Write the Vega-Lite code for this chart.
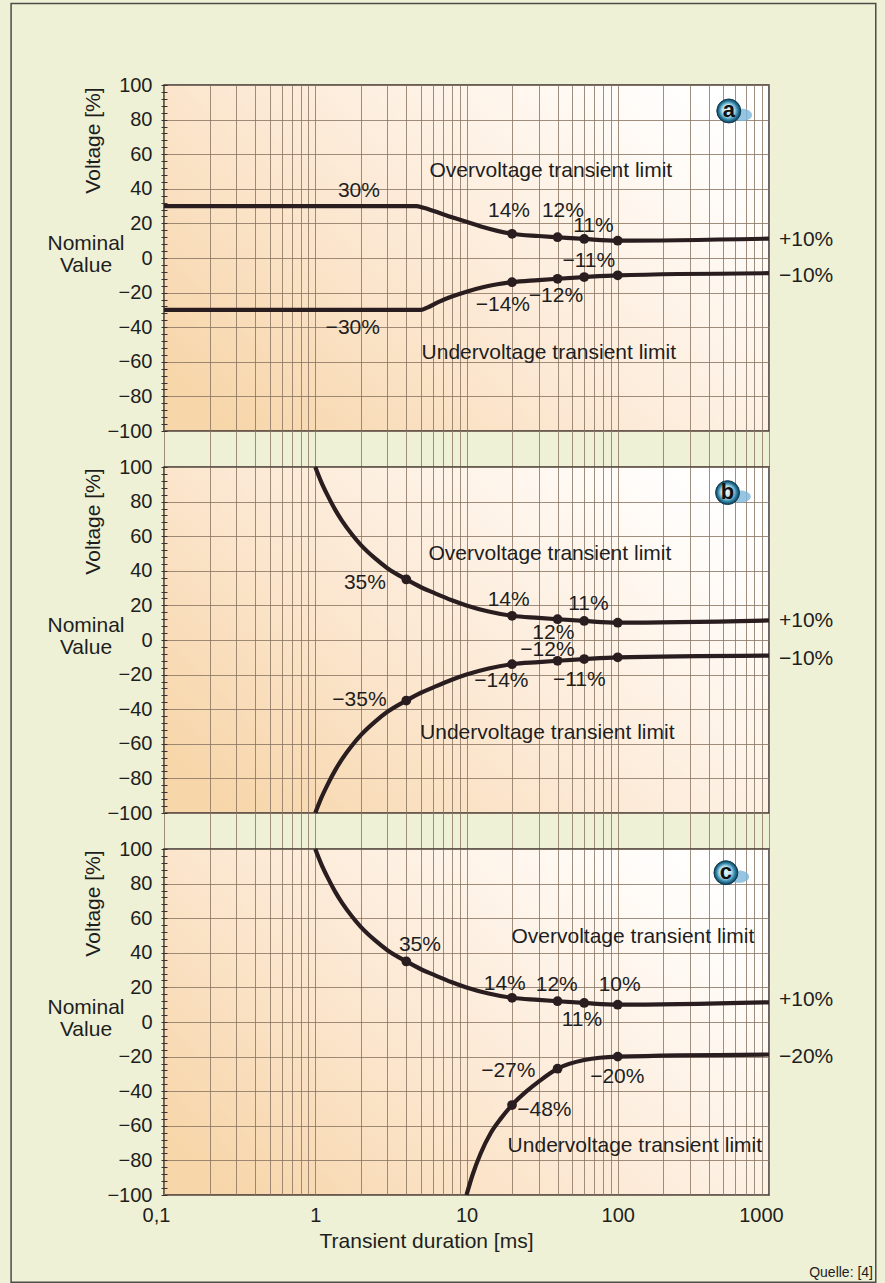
{
  "$schema": "https://vega.github.io/schema/vega-lite/v6.json",
  "background": "#eef1d5",
  "padding": {"left": 9, "top": 2, "right": 9, "bottom": 1},
  "spacing": 36,
  "bounds": "flush",
  "config": {
    "font": "Liberation Sans",
    "view": {
      "stroke": "#3a3030",
      "strokeWidth": 1.5,
      "fill": {"gradient": "linear", "x1": 0, "y1": 0.8, "x2": 1, "y2": 0.2,
        "stops": [{"offset": 0, "color": "#f7d6aa"}, {"offset": 0.45, "color": "#fce9d5"}, {"offset": 0.85, "color": "#fffaf5"}, {"offset": 1, "color": "#ffffff"}]}
    },
    "axis": {"labelFont": "Liberation Sans", "titleFont": "Liberation Sans", "labelColor": "#1e1e1e", "titleColor": "#1e1e1e", "labelOverlap": false, "labelFlush": false},
    "text": {"font": "Liberation Sans", "fontSize": 21, "color": "#1e1e1e"}
  },
  "datasets": {
    "curves": [
      {"panel":"a","series":"up","t":0.1,"v":30},{"panel":"a","series":"up","t":4.65,"v":30},{"panel":"a","series":"up","t":5.2,"v":29},{"panel":"a","series":"up","t":6,"v":27.3},{"panel":"a","series":"up","t":8,"v":23.6},{"panel":"a","series":"up","t":10,"v":21},{"panel":"a","series":"up","t":13,"v":17.8},{"panel":"a","series":"up","t":16,"v":15.7},{"panel":"a","series":"up","t":20,"v":14},{"panel":"a","series":"up","t":30,"v":12.7},{"panel":"a","series":"up","t":40,"v":12},{"panel":"a","series":"up","t":60,"v":11},{"panel":"a","series":"up","t":100,"v":10},{"panel":"a","series":"up","t":1000,"v":11.2},
      {"panel":"a","series":"lo","t":0.1,"v":-30},{"panel":"a","series":"lo","t":5,"v":-30},{"panel":"a","series":"lo","t":5.5,"v":-28.7},{"panel":"a","series":"lo","t":6.5,"v":-25.5},{"panel":"a","series":"lo","t":8,"v":-22.3},{"panel":"a","series":"lo","t":10,"v":-19.5},{"panel":"a","series":"lo","t":13,"v":-16.8},{"panel":"a","series":"lo","t":16,"v":-15.2},{"panel":"a","series":"lo","t":20,"v":-14},{"panel":"a","series":"lo","t":30,"v":-12.8},{"panel":"a","series":"lo","t":40,"v":-12},{"panel":"a","series":"lo","t":60,"v":-11},{"panel":"a","series":"lo","t":100,"v":-10},{"panel":"a","series":"lo","t":1000,"v":-8.8},
      {"panel":"b","series":"up","t":1,"v":100},{"panel":"b","series":"up","t":1.1,"v":91},{"panel":"b","series":"up","t":1.2,"v":84},{"panel":"b","series":"up","t":1.35,"v":75.5},{"panel":"b","series":"up","t":1.5,"v":69},{"panel":"b","series":"up","t":1.75,"v":61},{"panel":"b","series":"up","t":2,"v":55},{"panel":"b","series":"up","t":2.5,"v":47},{"panel":"b","series":"up","t":3,"v":41.5},{"panel":"b","series":"up","t":4,"v":35},{"panel":"b","series":"up","t":5,"v":30.5},{"panel":"b","series":"up","t":6,"v":27.5},{"panel":"b","series":"up","t":8,"v":23},{"panel":"b","series":"up","t":10,"v":20},{"panel":"b","series":"up","t":14,"v":16.5},{"panel":"b","series":"up","t":20,"v":14},{"panel":"b","series":"up","t":30,"v":12.8},{"panel":"b","series":"up","t":40,"v":12},{"panel":"b","series":"up","t":60,"v":11},{"panel":"b","series":"up","t":100,"v":10},{"panel":"b","series":"up","t":1000,"v":11.3},
      {"panel":"b","series":"lo","t":1,"v":-100},{"panel":"b","series":"lo","t":1.1,"v":-91},{"panel":"b","series":"lo","t":1.2,"v":-84},{"panel":"b","series":"lo","t":1.35,"v":-75.5},{"panel":"b","series":"lo","t":1.5,"v":-69},{"panel":"b","series":"lo","t":1.75,"v":-61},{"panel":"b","series":"lo","t":2,"v":-55},{"panel":"b","series":"lo","t":2.5,"v":-47},{"panel":"b","series":"lo","t":3,"v":-41.5},{"panel":"b","series":"lo","t":4,"v":-35},{"panel":"b","series":"lo","t":5,"v":-30.5},{"panel":"b","series":"lo","t":6,"v":-27.5},{"panel":"b","series":"lo","t":8,"v":-23},{"panel":"b","series":"lo","t":10,"v":-20},{"panel":"b","series":"lo","t":14,"v":-16.5},{"panel":"b","series":"lo","t":20,"v":-14},{"panel":"b","series":"lo","t":30,"v":-12.8},{"panel":"b","series":"lo","t":40,"v":-12},{"panel":"b","series":"lo","t":60,"v":-11},{"panel":"b","series":"lo","t":100,"v":-10},{"panel":"b","series":"lo","t":1000,"v":-9},
      {"panel":"c","series":"up","t":1,"v":100},{"panel":"c","series":"up","t":1.1,"v":91},{"panel":"c","series":"up","t":1.2,"v":84},{"panel":"c","series":"up","t":1.35,"v":75.5},{"panel":"c","series":"up","t":1.5,"v":69},{"panel":"c","series":"up","t":1.75,"v":61},{"panel":"c","series":"up","t":2,"v":55},{"panel":"c","series":"up","t":2.5,"v":47},{"panel":"c","series":"up","t":3,"v":41.5},{"panel":"c","series":"up","t":4,"v":35},{"panel":"c","series":"up","t":5,"v":30.5},{"panel":"c","series":"up","t":6,"v":27.5},{"panel":"c","series":"up","t":8,"v":23},{"panel":"c","series":"up","t":10,"v":20},{"panel":"c","series":"up","t":14,"v":16.5},{"panel":"c","series":"up","t":20,"v":14},{"panel":"c","series":"up","t":30,"v":12.8},{"panel":"c","series":"up","t":40,"v":12},{"panel":"c","series":"up","t":60,"v":11},{"panel":"c","series":"up","t":100,"v":10},{"panel":"c","series":"up","t":1000,"v":11.4},
      {"panel":"c","series":"lo","t":10,"v":-100},{"panel":"c","series":"lo","t":11,"v":-88},{"panel":"c","series":"lo","t":12.4,"v":-76},{"panel":"c","series":"lo","t":14.5,"v":-64},{"panel":"c","series":"lo","t":16.8,"v":-56},{"panel":"c","series":"lo","t":20,"v":-48},{"panel":"c","series":"lo","t":25,"v":-40},{"panel":"c","series":"lo","t":30,"v":-34.5},{"panel":"c","series":"lo","t":40,"v":-27},{"panel":"c","series":"lo","t":60,"v":-22},{"panel":"c","series":"lo","t":100,"v":-20},{"panel":"c","series":"lo","t":1000,"v":-18.8}
    ],
    "dots": [
      {"panel":"a","t":20,"v":14},{"panel":"a","t":40,"v":12},{"panel":"a","t":60,"v":11},{"panel":"a","t":100,"v":10},
      {"panel":"a","t":20,"v":-14},{"panel":"a","t":40,"v":-12},{"panel":"a","t":60,"v":-11},{"panel":"a","t":100,"v":-10},
      {"panel":"b","t":4,"v":35},{"panel":"b","t":20,"v":14},{"panel":"b","t":40,"v":12},{"panel":"b","t":60,"v":11},{"panel":"b","t":100,"v":10},
      {"panel":"b","t":4,"v":-35},{"panel":"b","t":20,"v":-14},{"panel":"b","t":40,"v":-12},{"panel":"b","t":60,"v":-11},{"panel":"b","t":100,"v":-10},
      {"panel":"c","t":4,"v":35},{"panel":"c","t":20,"v":14},{"panel":"c","t":40,"v":12},{"panel":"c","t":60,"v":11},{"panel":"c","t":100,"v":10},
      {"panel":"c","t":20,"v":-48},{"panel":"c","t":40,"v":-27},{"panel":"c","t":100,"v":-20}
    ],
    "labels": [
      {"panel":"a","text":"30%","t":1.945,"v":38.7},{"panel":"a","text":"−30%","t":1.77,"v":-40.3},{"panel":"a","text":"14%","t":19.1,"v":27.2},{"panel":"a","text":"12%","t":43.4,"v":27.2},{"panel":"a","text":"11%","t":69,"v":18.5},{"panel":"a","text":"−11%","t":64.4,"v":-1.7},{"panel":"a","text":"−14%","t":17.4,"v":-26.9},{"panel":"a","text":"−12%","t":39,"v":-22},{"panel":"a","text":"Overvoltage transient limit","t":36.1,"v":50.3},{"panel":"a","text":"Undervoltage transient limit","t":35,"v":-54.9},
      {"panel":"b","text":"35%","t":2.13,"v":33.1},{"panel":"b","text":"−35%","t":1.96,"v":-34.9},{"panel":"b","text":"14%","t":19,"v":23.3},{"panel":"b","text":"12%","t":37.5,"v":3.8},{"panel":"b","text":"11%","t":64,"v":20.7},{"panel":"b","text":"−12%","t":34.3,"v":-5.6},{"panel":"b","text":"−14%","t":17,"v":-23.6},{"panel":"b","text":"−11%","t":55.7,"v":-23.3},{"panel":"b","text":"Overvoltage transient limit","t":35.6,"v":49.9},{"panel":"b","text":"Undervoltage transient limit","t":34.2,"v":-53.9},
      {"panel":"c","text":"35%","t":4.92,"v":44.3},{"panel":"c","text":"14%","t":17.9,"v":22},{"panel":"c","text":"12%","t":39.5,"v":21.2},{"panel":"c","text":"10%","t":103,"v":21.2},{"panel":"c","text":"11%","t":58,"v":0.9},{"panel":"c","text":"−27%","t":18.9,"v":-28.1},{"panel":"c","text":"−20%","t":99.3,"v":-31.9},{"panel":"c","text":"−48%","t":32.7,"v":-51},{"panel":"c","text":"Overvoltage transient limit","t":125.9,"v":49},{"panel":"c","text":"Undervoltage transient limit","t":129.7,"v":-71.6}
    ],
    "ends": [
      {"panel":"a","text":"+10%","v":10.4},{"panel":"a","text":"−10%","v":-10.4},
      {"panel":"b","text":"+10%","v":11.2},{"panel":"b","text":"−10%","v":-10.8},
      {"panel":"c","text":"+10%","v":12.5},{"panel":"c","text":"−20%","v":-20}
    ],
    "badges": [
      {"panel":"a","letter":"a","t":542,"v":85},
      {"panel":"b","letter":"b","t":532,"v":85.2},
      {"panel":"c","letter":"c","t":519,"v":86.3}
    ]
  },
  "vconcat": [
    {
      "width": 605, "height": 346,
      "layer": [
        {"data": {"name": "curves"}, "transform": [{"filter": "datum.panel == 'a'"}],
         "mark": {"type": "line", "interpolate": "monotone", "strokeWidth": 4.2, "color": "#2a1d1f"},
         "encoding": {
           "x": {"field": "t", "type": "quantitative", "scale": {"type": "log", "domain": [0.1, 1000], "nice": false},
                 "axis": {"values": [0.1,0.2,0.3,0.4,0.5,0.6,0.7,0.8,0.9,1,2,3,4,5,6,7,8,9,10,20,30,40,50,60,70,80,90,100,200,300,400,500,600,700,800,900,1000],
                          "tickCount": 200, "labels": false, "ticks": true, "tickSize": 36, "tickColor": "#86725f", "tickWidth": 0.8, "domain": false, "labelOverlap": false,
                          "grid": true, "gridColor": "#86725f", "gridWidth": 0.8, "title": null}},
           "y": {"field": "v", "type": "quantitative", "scale": {"domain": [-100, 100], "nice": false},
                 "axis": {"values": [-100,-96,-92,-88,-84,-80,-76,-72,-68,-64,-60,-56,-52,-48,-44,-40,-36,-32,-28,-24,-20,-16,-12,-8,-4,0,4,8,12,16,20,24,28,32,36,40,44,48,52,56,60,64,68,72,76,80,84,88,92,96,100],
                          "tickCount": 200, "labelExpr": "datum.value % 20 === 0 ? datum.label : ''", "labelOverlap": false,
                          "grid": true, "gridColor": "#86725f", "gridWidth": 0.8,
                          "gridOpacity": {"condition": {"test": "datum.value % 20 === 0", "value": 1}, "value": 0},
                          "tickSize": 6, "offset": -3, "domain": false, "tickColor": "#3a3030", "tickWidth": 1,
                          "labelPadding": 9, "labelFontSize": 20,
                          "title": "Voltage [%]", "titleX": -73.5, "titleY": 55, "titleAlign": "center", "titleBaseline": "middle",
                          "titleAngle": -90, "titleFontSize": 21, "titleFontWeight": "normal"}},
           "detail": {"field": "series"}
         }},
        {"data": {"name": "dots"}, "transform": [{"filter": "datum.panel == 'a'"}],
         "mark": {"type": "point", "filled": true, "size": 95, "color": "#2a1d1f", "opacity": 1},
         "encoding": {"x": {"field": "t", "type": "quantitative"}, "y": {"field": "v", "type": "quantitative"}}},
        {"data": {"name": "labels"}, "transform": [{"filter": "datum.panel == 'a'"}],
         "mark": {"type": "text", "align": "center", "baseline": "middle"},
         "encoding": {"x": {"field": "t", "type": "quantitative"}, "y": {"field": "v", "type": "quantitative"}, "text": {"field": "text"}}},
        {"data": {"name": "ends"}, "transform": [{"filter": "datum.panel == 'a'"}],
         "mark": {"type": "text", "align": "left", "baseline": "middle", "dx": 10},
         "encoding": {"x": {"datum": 1000}, "y": {"field": "v", "type": "quantitative"}, "text": {"field": "text"}}},
        {"data": {"values": [{}]},
         "mark": {"type": "text", "text": "Nominal\nValue", "lineBreak": "\n", "lineHeight": 22, "align": "center", "baseline": "middle", "dx": -78, "dy": -11},
         "encoding": {"x": {"datum": 0.1}, "y": {"datum": 1.7}}},
        {"data": {"name": "badges"}, "transform": [{"filter": "datum.panel == 'a'"}],
         "mark": {"type": "point", "shape": "M -1 0 A 1 0.6 0 1 0 1 0 A 1 0.6 0 1 0 -1 0 Z", "filled": true, "size": 420, "color": "#7ab6dc", "opacity": 0.8, "xOffset": 13, "yOffset": 4},
         "encoding": {"x": {"field": "t", "type": "quantitative"}, "y": {"field": "v", "type": "quantitative"}}},
        {"data": {"name": "badges"}, "transform": [{"filter": "datum.panel == 'a'"}],
         "mark": {"type": "point", "shape": "circle", "filled": true, "size": 573, "opacity": 1, "stroke": "#0f3a50", "strokeWidth": 1,
                  "fill": {"gradient": "radial", "x1": 0.45, "y1": 0.45, "r1": 0, "x2": 0.5, "y2": 0.5, "r2": 0.5,
                           "stops": [{"offset": 0, "color": "#eef8fb"}, {"offset": 0.5, "color": "#b4e0ee"}, {"offset": 0.78, "color": "#2c82a6"}, {"offset": 1, "color": "#113c54"}]}},
         "encoding": {"x": {"field": "t", "type": "quantitative"}, "y": {"field": "v", "type": "quantitative"}}},
        {"data": {"name": "badges"}, "transform": [{"filter": "datum.panel == 'a'"}],
         "mark": {"type": "text", "fontSize": 22, "fontWeight": "bold", "align": "center", "baseline": "middle", "color": "#111111", "dy": -1},
         "encoding": {"x": {"field": "t", "type": "quantitative"}, "y": {"field": "v", "type": "quantitative"}, "text": {"field": "letter"}}}
      ]
    },
    {
      "width": 605, "height": 346,
      "layer": [
        {"data": {"name": "curves"}, "transform": [{"filter": "datum.panel == 'b'"}],
         "mark": {"type": "line", "interpolate": "monotone", "strokeWidth": 4.2, "color": "#2a1d1f"},
         "encoding": {
           "x": {"field": "t", "type": "quantitative", "scale": {"type": "log", "domain": [0.1, 1000], "nice": false},
                 "axis": {"values": [0.1,0.2,0.3,0.4,0.5,0.6,0.7,0.8,0.9,1,2,3,4,5,6,7,8,9,10,20,30,40,50,60,70,80,90,100,200,300,400,500,600,700,800,900,1000],
                          "tickCount": 200, "labels": false, "ticks": true, "tickSize": 36, "tickColor": "#86725f", "tickWidth": 0.8, "domain": false, "labelOverlap": false,
                          "grid": true, "gridColor": "#86725f", "gridWidth": 0.8, "title": null}},
           "y": {"field": "v", "type": "quantitative", "scale": {"domain": [-100, 100], "nice": false},
                 "axis": {"values": [-100,-96,-92,-88,-84,-80,-76,-72,-68,-64,-60,-56,-52,-48,-44,-40,-36,-32,-28,-24,-20,-16,-12,-8,-4,0,4,8,12,16,20,24,28,32,36,40,44,48,52,56,60,64,68,72,76,80,84,88,92,96,100],
                          "tickCount": 200, "labelExpr": "datum.value % 20 === 0 ? datum.label : ''", "labelOverlap": false,
                          "grid": true, "gridColor": "#86725f", "gridWidth": 0.8,
                          "gridOpacity": {"condition": {"test": "datum.value % 20 === 0", "value": 1}, "value": 0},
                          "tickSize": 6, "offset": -3, "domain": false, "tickColor": "#3a3030", "tickWidth": 1,
                          "labelPadding": 9, "labelFontSize": 20,
                          "title": "Voltage [%]", "titleX": -73.5, "titleY": 54, "titleAlign": "center", "titleBaseline": "middle",
                          "titleAngle": -90, "titleFontSize": 21, "titleFontWeight": "normal"}},
           "detail": {"field": "series"}
         }},
        {"data": {"name": "dots"}, "transform": [{"filter": "datum.panel == 'b'"}],
         "mark": {"type": "point", "filled": true, "size": 95, "color": "#2a1d1f", "opacity": 1},
         "encoding": {"x": {"field": "t", "type": "quantitative"}, "y": {"field": "v", "type": "quantitative"}}},
        {"data": {"name": "labels"}, "transform": [{"filter": "datum.panel == 'b'"}],
         "mark": {"type": "text", "align": "center", "baseline": "middle"},
         "encoding": {"x": {"field": "t", "type": "quantitative"}, "y": {"field": "v", "type": "quantitative"}, "text": {"field": "text"}}},
        {"data": {"name": "ends"}, "transform": [{"filter": "datum.panel == 'b'"}],
         "mark": {"type": "text", "align": "left", "baseline": "middle", "dx": 10},
         "encoding": {"x": {"datum": 1000}, "y": {"field": "v", "type": "quantitative"}, "text": {"field": "text"}}},
        {"data": {"values": [{}]},
         "mark": {"type": "text", "text": "Nominal\nValue", "lineBreak": "\n", "lineHeight": 22, "align": "center", "baseline": "middle", "dx": -78, "dy": -11},
         "encoding": {"x": {"datum": 0.1}, "y": {"datum": 1.7}}},
        {"data": {"name": "badges"}, "transform": [{"filter": "datum.panel == 'b'"}],
         "mark": {"type": "point", "shape": "M -1 0 A 1 0.6 0 1 0 1 0 A 1 0.6 0 1 0 -1 0 Z", "filled": true, "size": 420, "color": "#7ab6dc", "opacity": 0.8, "xOffset": 13, "yOffset": 4},
         "encoding": {"x": {"field": "t", "type": "quantitative"}, "y": {"field": "v", "type": "quantitative"}}},
        {"data": {"name": "badges"}, "transform": [{"filter": "datum.panel == 'b'"}],
         "mark": {"type": "point", "shape": "circle", "filled": true, "size": 573, "opacity": 1, "stroke": "#0f3a50", "strokeWidth": 1,
                  "fill": {"gradient": "radial", "x1": 0.45, "y1": 0.45, "r1": 0, "x2": 0.5, "y2": 0.5, "r2": 0.5,
                           "stops": [{"offset": 0, "color": "#eef8fb"}, {"offset": 0.5, "color": "#b4e0ee"}, {"offset": 0.78, "color": "#2c82a6"}, {"offset": 1, "color": "#113c54"}]}},
         "encoding": {"x": {"field": "t", "type": "quantitative"}, "y": {"field": "v", "type": "quantitative"}}},
        {"data": {"name": "badges"}, "transform": [{"filter": "datum.panel == 'b'"}],
         "mark": {"type": "text", "fontSize": 22, "fontWeight": "bold", "align": "center", "baseline": "middle", "color": "#111111", "dy": -1},
         "encoding": {"x": {"field": "t", "type": "quantitative"}, "y": {"field": "v", "type": "quantitative"}, "text": {"field": "letter"}}}
      ]
    },
    {
      "width": 605, "height": 346,
      "layer": [
        {"data": {"name": "curves"}, "transform": [{"filter": "datum.panel == 'c'"}],
         "mark": {"type": "line", "interpolate": "monotone", "strokeWidth": 4.2, "color": "#2a1d1f"},
         "encoding": {
           "x": {"field": "t", "type": "quantitative", "scale": {"type": "log", "domain": [0.1, 1000], "nice": false},
                 "axis": {"values": [0.1,0.2,0.3,0.4,0.5,0.6,0.7,0.8,0.9,1,2,3,4,5,6,7,8,9,10,20,30,40,50,60,70,80,90,100,200,300,400,500,600,700,800,900,1000],
                          "tickCount": 200,
                          "labelExpr": "datum.value == 0.1 ? '0,1' : datum.value == 1 ? '1' : datum.value == 10 ? '10' : datum.value == 100 ? '100' : datum.value == 1000 ? '1000' : ''",
                          "labelFontSize": 20, "labelPadding": 10, "labelOverlap": false, "labelFlush": false,
                          "labelOffset": {"condition": {"test": "datum.value == 1000 || datum.value == 0.1", "value": -8}, "value": 0},
                          "ticks": false, "domain": false,
                          "grid": true, "gridColor": "#86725f", "gridWidth": 0.8,
                          "title": "Transient duration [ms]", "titleX": 262, "titleY": 46, "titleAlign": "center", "titleBaseline": "middle",
                          "titleFontSize": 21, "titleFontWeight": "normal"}},
           "y": {"field": "v", "type": "quantitative", "scale": {"domain": [-100, 100], "nice": false},
                 "axis": {"values": [-100,-96,-92,-88,-84,-80,-76,-72,-68,-64,-60,-56,-52,-48,-44,-40,-36,-32,-28,-24,-20,-16,-12,-8,-4,0,4,8,12,16,20,24,28,32,36,40,44,48,52,56,60,64,68,72,76,80,84,88,92,96,100],
                          "tickCount": 200, "labelExpr": "datum.value % 20 === 0 ? datum.label : ''", "labelOverlap": false,
                          "grid": true, "gridColor": "#86725f", "gridWidth": 0.8,
                          "gridOpacity": {"condition": {"test": "datum.value % 20 === 0", "value": 1}, "value": 0},
                          "tickSize": 6, "offset": -3, "domain": false, "tickColor": "#3a3030", "tickWidth": 1,
                          "labelPadding": 9, "labelFontSize": 20,
                          "title": "Voltage [%]", "titleX": -73.5, "titleY": 54, "titleAlign": "center", "titleBaseline": "middle",
                          "titleAngle": -90, "titleFontSize": 21, "titleFontWeight": "normal"}},
           "detail": {"field": "series"}
         }},
        {"data": {"name": "dots"}, "transform": [{"filter": "datum.panel == 'c'"}],
         "mark": {"type": "point", "filled": true, "size": 95, "color": "#2a1d1f", "opacity": 1},
         "encoding": {"x": {"field": "t", "type": "quantitative"}, "y": {"field": "v", "type": "quantitative"}}},
        {"data": {"name": "labels"}, "transform": [{"filter": "datum.panel == 'c'"}],
         "mark": {"type": "text", "align": "center", "baseline": "middle"},
         "encoding": {"x": {"field": "t", "type": "quantitative"}, "y": {"field": "v", "type": "quantitative"}, "text": {"field": "text"}}},
        {"data": {"name": "ends"}, "transform": [{"filter": "datum.panel == 'c'"}],
         "mark": {"type": "text", "align": "left", "baseline": "middle", "dx": 10},
         "encoding": {"x": {"datum": 1000}, "y": {"field": "v", "type": "quantitative"}, "text": {"field": "text"}}},
        {"data": {"values": [{}]},
         "mark": {"type": "text", "text": "Nominal\nValue", "lineBreak": "\n", "lineHeight": 22, "align": "center", "baseline": "middle", "dx": -78, "dy": -11},
         "encoding": {"x": {"datum": 0.1}, "y": {"datum": 1.7}}},
        {"data": {"values": [{}]},
         "mark": {"type": "text", "text": "Quelle: [4]", "fontSize": 14, "align": "right", "baseline": "middle", "dx": 104, "dy": 78},
         "encoding": {"x": {"datum": 1000}, "y": {"datum": -100}}},
        {"data": {"values": [{}]},
         "mark": {"type": "rect", "fill": "transparent", "stroke": "#4d4d4a", "strokeWidth": 1.5, "clip": false},
         "encoding": {"x": {"datum": 0.00975}, "x2": {"datum": 5080}, "y": {"datum": 588.7}, "y2": {"datum": -150.4}}},
        {"data": {"name": "badges"}, "transform": [{"filter": "datum.panel == 'c'"}],
         "mark": {"type": "point", "shape": "M -1 0 A 1 0.6 0 1 0 1 0 A 1 0.6 0 1 0 -1 0 Z", "filled": true, "size": 420, "color": "#7ab6dc", "opacity": 0.8, "xOffset": 13, "yOffset": 4},
         "encoding": {"x": {"field": "t", "type": "quantitative"}, "y": {"field": "v", "type": "quantitative"}}},
        {"data": {"name": "badges"}, "transform": [{"filter": "datum.panel == 'c'"}],
         "mark": {"type": "point", "shape": "circle", "filled": true, "size": 573, "opacity": 1, "stroke": "#0f3a50", "strokeWidth": 1,
                  "fill": {"gradient": "radial", "x1": 0.45, "y1": 0.45, "r1": 0, "x2": 0.5, "y2": 0.5, "r2": 0.5,
                           "stops": [{"offset": 0, "color": "#eef8fb"}, {"offset": 0.5, "color": "#b4e0ee"}, {"offset": 0.78, "color": "#2c82a6"}, {"offset": 1, "color": "#113c54"}]}},
         "encoding": {"x": {"field": "t", "type": "quantitative"}, "y": {"field": "v", "type": "quantitative"}}},
        {"data": {"name": "badges"}, "transform": [{"filter": "datum.panel == 'c'"}],
         "mark": {"type": "text", "fontSize": 22, "fontWeight": "bold", "align": "center", "baseline": "middle", "color": "#111111", "dy": -1},
         "encoding": {"x": {"field": "t", "type": "quantitative"}, "y": {"field": "v", "type": "quantitative"}, "text": {"field": "letter"}}}
      ]
    }
  ]
}
